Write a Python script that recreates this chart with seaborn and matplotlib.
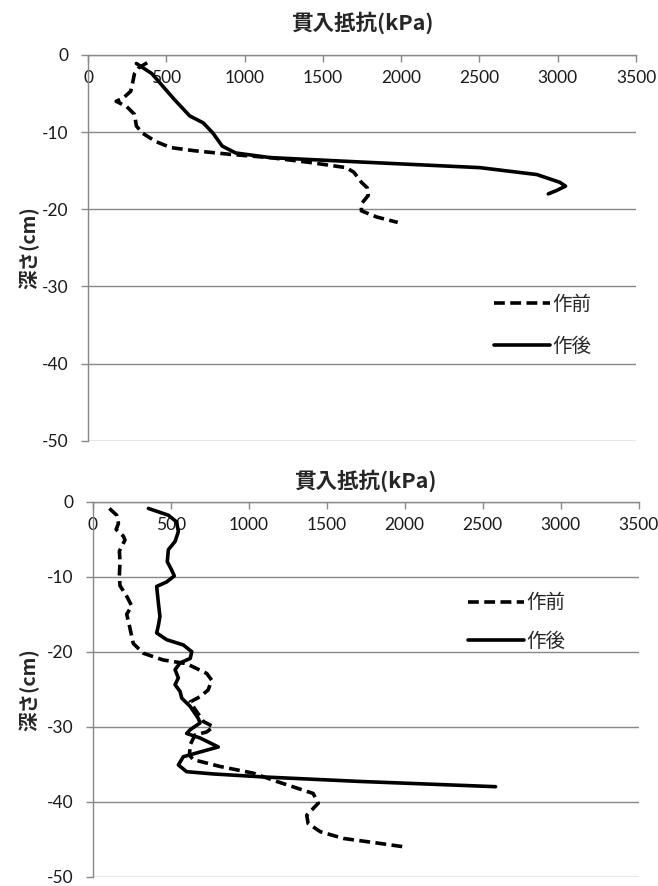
import numpy as np
import matplotlib
matplotlib.use('Agg')
import matplotlib.pyplot as plt
import seaborn as sns
import pandas as pd

# penetration resistance profiles (kPa vs depth cm)

# upper chart
top_before_kpa = [378, 322, 297, 285, 273, 224, 180, 248, 297, 309, 346, 431, 528, 675,
                  918, 1162, 1405, 1649, 1698, 1746, 1783, 1790, 1746, 1746, 1844, 1978]
top_before_depth = [-1.0, -1.7, -2.4, -3.6, -4.7, -5.6, -6.0, -6.7, -7.7, -9.2, -10.1, -11.2, -12.0, -12.4,
                    -12.9, -13.3, -13.9, -14.6, -15.2, -16.5, -17.2, -18.2, -19.3, -20.2, -21.0, -21.7]
top_after_kpa = [309, 407, 480, 553, 650, 736, 797, 857, 943, 1162, 1771, 2502, 2867,
                 3013, 3050, 2989, 2940]
top_after_depth = [-1.1, -2.4, -4.1, -5.8, -7.9, -8.8, -10.1, -11.8, -12.7, -13.3, -13.9, -14.6, -15.5,
                   -16.5, -17.0, -17.6, -18.0]

# lower chart
bot_before_kpa = [107, 154, 165, 150, 197, 207, 171, 175, 171, 175, 218, 250, 218, 235,
                  260, 324, 451, 602, 731, 763, 740, 688, 625, 644, 709, 773, 731, 656,
                  625, 620, 645, 816, 1030, 1180, 1413, 1446, 1372, 1381, 1459, 1607, 1820, 1990]
bot_before_depth = [-0.9, -1.8, -2.9, -3.7, -4.6, -5.1, -6.6, -7.9, -9.9, -11.2, -12.6, -13.9, -15.0, -16.5,
                    -18.9, -20.2, -21.1, -21.6, -22.9, -23.8, -25.1, -26.0, -26.7, -27.3, -29.3, -30.0, -30.7, -31.1,
                    -32.4, -33.8, -34.4, -35.3, -36.2, -37.3, -38.9, -40.2, -41.8, -42.9, -44.0, -44.9, -45.5, -46.0]
bot_after_kpa = [357, 485, 538, 549, 528, 485, 478, 506, 523, 474, 410, 421, 431, 421,
                 410, 474, 581, 635, 625, 560, 528, 549, 528, 560, 571, 625, 677, 688,
                 625, 602, 688, 805, 667, 581, 549, 602, 773, 1094, 1714, 2583]
bot_after_depth = [-0.9, -1.8, -2.7, -4.0, -5.3, -6.4, -8.0, -9.1, -9.9, -10.7, -11.3, -13.5, -15.3, -16.5,
                   -17.5, -18.4, -19.1, -20.0, -20.9, -21.5, -22.4, -23.5, -24.4, -25.3, -26.2, -27.3, -28.9, -29.5,
                   -30.4, -30.9, -31.5, -32.7, -33.5, -34.0, -35.1, -36.0, -36.3, -36.7, -37.3, -38.0]

series_labels = ['作前', '作後']
x_ticks = [0, 500, 1000, 1500, 2000, 2500, 3000, 3500]
y_ticks = [0, -10, -20, -30, -40, -50]
title_text = '貫入抵抗(kPa)'
ylabel_text = '深さ(cm)'

sns.set_style('white')
plt.rcParams['font.family'] = ['Lato', 'Noto Sans CJK JP', 'DejaVu Sans']
plt.rcParams['axes.unicode_minus'] = False

GRID = '#888888'
CJK = ['Noto Sans CJK JP', 'DejaVu Sans']

fig = plt.figure(figsize=(6.58, 8.86), dpi=100)
ax_top = fig.add_axes([88 / 658, 1 - 440.7 / 886, 548 / 658, 385.7 / 886])
ax_bot = fig.add_axes([92.7 / 658, 1 - 876.7 / 886, 546 / 658, 375 / 886])

panels = [
    (ax_top, top_before_kpa, top_before_depth, top_after_kpa, top_after_depth,
     (0.74, 0.38), 22.5, 1.05),
    (ax_bot, bot_before_kpa, bot_before_depth, bot_after_kpa, bot_after_depth,
     (0.687, 0.758), 481, 0.9),
]

for ax, bk, bd, ak, ad, leg_pos, title_y, lsp in panels:
    before = pd.DataFrame({'kpa': bk, 'depth': bd})
    after = pd.DataFrame({'kpa': ak, 'depth': ad})
    sns.lineplot(data=before, x='kpa', y='depth', sort=False, estimator=None, ax=ax,
                 color='black', linewidth=2.6, linestyle=(0, (3.0, 1.5)),
                 label=series_labels[0])
    sns.lineplot(data=after, x='kpa', y='depth', sort=False, estimator=None, ax=ax,
                 color='black', linewidth=2.6, label=series_labels[1],
                 solid_capstyle='round', solid_joinstyle='round')

    ax.set_xlim(0, 3500)
    ax.set_ylim(-50, 0)
    ax.set_xticks(x_ticks)
    ax.set_yticks(y_ticks)
    ax.set_xlabel('')
    ax.set_ylabel('')

    # x axis sits on depth 0 (top of plot), ticks pointing down
    ax.spines['bottom'].set_position(('data', 0))
    ax.spines['top'].set_visible(False)
    ax.spines['right'].set_visible(False)
    for s in ['bottom', 'left']:
        ax.spines[s].set_color(GRID)
        ax.spines[s].set_linewidth(1.0)
    ax.yaxis.grid(True, color=GRID, linewidth=1.0)
    ax.xaxis.grid(False)
    ax.tick_params(axis='x', direction='out', length=5, width=1, color=GRID,
                   pad=6, labelsize=12.5, labelcolor='#1a1a1a')
    ax.tick_params(axis='y', direction='out', length=5, width=1, color=GRID,
                   pad=9, labelsize=12.5, labelcolor='#1a1a1a')
    ax.tick_params(bottom=True, left=True)

    leg = ax.legend(loc='upper left', bbox_to_anchor=leg_pos, frameon=False,
                    handlelength=2.9, handletextpad=0.1, labelspacing=lsp,
                    borderaxespad=0, borderpad=0,
                    prop={'family': CJK, 'size': 14})

    pos = ax.get_position()
    cx = (pos.x0 + pos.x1) / 2
    fig.text(cx, 1 - title_y / 886, title_text, ha='center', va='center',
             fontsize=15.5, fontweight='bold', family=CJK)
    fig.text(29 / 658, (pos.y0 + pos.y1) / 2, ylabel_text, ha='center', va='center',
             rotation=90, fontsize=14, fontweight='bold', family=CJK)

fig.savefig('out.png', dpi=100)
